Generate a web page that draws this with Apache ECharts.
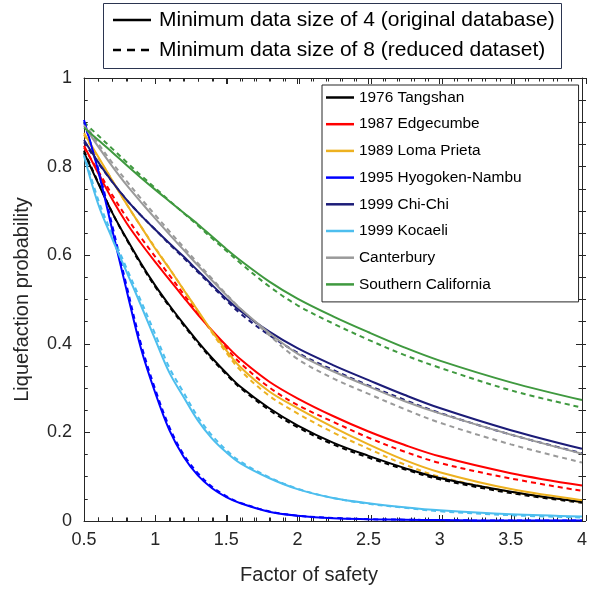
<!DOCTYPE html>
<html>
<head>
<meta charset="utf-8">
<script src="https://cdn.jsdelivr.net/npm/echarts@6/dist/echarts.min.js"></script>
<style>html,body{margin:0;padding:0;background:#fff}#c{width:590px;height:590px}</style>
</head>
<body>
<div id="c"></div>
<script>
// Factor of safety sample points
const fsValues = [0.5,0.6,0.7,0.8,0.9,1.0,1.1,1.2,1.3,1.4,1.5,1.6,1.8,2.0,2.25,2.5,2.75,3.0,3.5,4.0];

const eventNames = ['1976 Tangshan','1987 Edgecumbe','1989 Loma Prieta','1995 Hyogoken-Nambu','1999 Chi-Chi','1999 Kocaeli','Canterbury','Southern California'];

// Minimum data size of 4 (original database) - solid
const tangshan4   = [0.832,0.762,0.695,0.637,0.582,0.532,0.487,0.445,0.405,0.368,0.334,0.303,0.255,0.216,0.177,0.147,0.12,0.097,0.066,0.043];
const edgecumbe4  = [0.847,0.785,0.725,0.672,0.627,0.585,0.545,0.505,0.466,0.43,0.396,0.365,0.315,0.277,0.237,0.202,0.172,0.146,0.108,0.08];
const lomaPrieta4 = [0.876,0.822,0.768,0.715,0.665,0.615,0.57,0.522,0.475,0.428,0.385,0.347,0.293,0.255,0.212,0.173,0.138,0.11,0.072,0.047];
const hyogoken4   = [0.905,0.79,0.655,0.52,0.39,0.29,0.205,0.145,0.103,0.074,0.054,0.04,0.021,0.012,0.006,0.004,0.003,0.002,0.001,0.001];
const chiChi4     = [0.86,0.81,0.765,0.725,0.69,0.658,0.627,0.597,0.565,0.533,0.502,0.474,0.428,0.39,0.352,0.318,0.285,0.255,0.205,0.163];
const kocaeli4    = [0.825,0.715,0.636,0.562,0.487,0.41,0.335,0.28,0.227,0.186,0.155,0.13,0.097,0.072,0.052,0.04,0.031,0.024,0.015,0.01];
const canterbury4 = [0.893,0.845,0.8,0.758,0.72,0.683,0.647,0.612,0.577,0.543,0.51,0.479,0.425,0.378,0.338,0.304,0.271,0.243,0.195,0.152];
const southCal4   = [0.888,0.86,0.832,0.803,0.775,0.748,0.722,0.696,0.67,0.642,0.614,0.588,0.541,0.502,0.462,0.426,0.392,0.362,0.313,0.273];

// Minimum data size of 8 (reduced dataset) - dashed
const tangshan8   = [0.836,0.764,0.695,0.635,0.579,0.529,0.484,0.442,0.402,0.365,0.331,0.3,0.251,0.212,0.173,0.143,0.117,0.094,0.063,0.041];
const edgecumbe8  = [0.843,0.79,0.735,0.685,0.64,0.597,0.555,0.512,0.47,0.428,0.39,0.356,0.302,0.262,0.224,0.188,0.157,0.131,0.096,0.068];
const lomaPrieta8 = [0.872,0.82,0.768,0.715,0.665,0.617,0.57,0.522,0.474,0.425,0.38,0.34,0.283,0.243,0.2,0.163,0.128,0.1,0.066,0.043];
const hyogoken8   = [0.9,0.795,0.665,0.53,0.4,0.298,0.212,0.15,0.108,0.077,0.056,0.041,0.022,0.012,0.007,0.004,0.003,0.002,0.001,0.001];
const chiChi8     = [0.855,0.808,0.765,0.725,0.69,0.658,0.625,0.594,0.562,0.53,0.498,0.468,0.42,0.38,0.341,0.306,0.274,0.244,0.195,0.153];
const kocaeli8    = [0.83,0.725,0.645,0.57,0.497,0.422,0.346,0.29,0.235,0.193,0.16,0.134,0.099,0.073,0.052,0.039,0.03,0.022,0.013,0.008];
const canterbury8 = [0.9,0.852,0.808,0.767,0.728,0.691,0.654,0.618,0.582,0.547,0.512,0.479,0.42,0.366,0.322,0.287,0.253,0.222,0.173,0.132];
const southCal8   = [0.9,0.87,0.84,0.81,0.78,0.752,0.723,0.695,0.667,0.638,0.61,0.582,0.53,0.487,0.446,0.409,0.375,0.346,0.295,0.256];

const solidSets  = [tangshan4, edgecumbe4, lomaPrieta4, hyogoken4, chiChi4, kocaeli4, canterbury4, southCal4];
const dashedSets = [tangshan8, edgecumbe8, lomaPrieta8, hyogoken8, chiChi8, kocaeli8, canterbury8, southCal8];

const legendTop = ['Minimum data size of 4 (original database)','Minimum data size of 8 (reduced dataset)'];

const colors = ['#000000','#ff0000','#edb120','#0000ff','#1c1c78','#4dbeee','#9a9a9a','#3f993f'];
const FONT = '"Liberation Sans", Arial, sans-serif';
const AX = '#262626';

const chart = echarts.init(document.getElementById('c'));

function pairs(arr){ return fsValues.map((x,i)=>[x, arr[i]]); }

const series = [];
eventNames.forEach((n,i)=>{
  series.push({name:n, type:'line', data:pairs(dashedSets[i]), showSymbol:false, smooth:0.35,
    lineStyle:{color:colors[i], width:2, type:[5,4]}, itemStyle:{color:colors[i]}, z:2});
});
eventNames.forEach((n,i)=>{
  series.push({name:n, type:'line', data:pairs(solidSets[i]), showSymbol:false, smooth:0.35,
    lineStyle:{color:colors[i], width:2}, itemStyle:{color:colors[i]}, z:3});
});

function axisStyle(split){
  return {
    axisLine:{show:true, onZero:false, lineStyle:{color:AX, width:1}},
    axisTick:{show:true, inside:true, length:6, lineStyle:{color:AX, width:1}},
    minorTick:{show:true, splitNumber:split, length:3.5, lineStyle:{color:AX, width:1}},
    splitLine:{show:false}, minorSplitLine:{show:false}
  };
}

// Tick strips: thin grids along each frame edge whose split lines act as inward ticks
const grids = [{left:84, right:4, top:78, bottom:69, containLabel:false}];
const xAxes = [
  Object.assign({type:'value', min:0.5, max:4, interval:0.5, position:'bottom',
    axisLabel:{fontSize:18, color:AX, fontFamily:FONT, margin:10},
    name:'Factor of safety', nameLocation:'middle', nameGap:44,
    nameTextStyle:{fontSize:20, color:AX, fontFamily:FONT, padding:[0,48,0,0]}
  }, axisStyle(5)),
  Object.assign({type:'value', min:0.5, max:4, interval:0.5, position:'top', axisLabel:{show:false}}, axisStyle(5))
];
const yAxes = [
  Object.assign({type:'value', min:0, max:1, interval:0.2, position:'left',
    axisLabel:{fontSize:18, color:AX, fontFamily:FONT, margin:12, padding:[0,0,8,0]},
    name:'Liquefaction probability', nameLocation:'middle', nameGap:52,
    nameTextStyle:{fontSize:20, color:AX, fontFamily:FONT}
  }, axisStyle(4)),
  Object.assign({type:'value', min:0, max:1, interval:0.2, position:'right', axisLabel:{show:false}}, axisStyle(4))
];
const tickLine = {color:AX, width:1};
function hiddenAxis(g){ return {gridIndex:g, type:'value', min:0, max:1, show:false}; }
function hStrip(gridDef, major){
  const g = grids.length; grids.push(gridDef);
  xAxes.push({gridIndex:g, type:'value', min:0.5, max:4, interval:0.5,
    axisLine:{show:false}, axisTick:{show:false}, axisLabel:{show:false},
    minorTick:{show:false, splitNumber:5},
    splitLine:{show:major, lineStyle:tickLine}, minorSplitLine:{show:!major, lineStyle:tickLine}});
  yAxes.push(hiddenAxis(g));
}
function vStrip(gridDef, major){
  const g = grids.length; grids.push(gridDef);
  yAxes.push({gridIndex:g, type:'value', min:0, max:1, interval:0.2,
    axisLine:{show:false}, axisTick:{show:false}, axisLabel:{show:false},
    minorTick:{show:false, splitNumber:4},
    splitLine:{show:major, lineStyle:tickLine}, minorSplitLine:{show:!major, lineStyle:tickLine}});
  xAxes.push(hiddenAxis(g));
}
hStrip({left:84, right:4, top:515, height:6}, true);
hStrip({left:84, right:4, top:517.5, height:3.5}, false);
hStrip({left:84, right:4, top:78, height:6}, true);
hStrip({left:84, right:4, top:78, height:3.5}, false);
vStrip({left:84, width:6, top:78, bottom:69}, true);
vStrip({left:84, width:3.5, top:78, bottom:69}, false);
vStrip({right:4, width:6, top:78, bottom:69}, true);
vStrip({right:4, width:3.5, top:78, bottom:69}, false);

chart.setOption({
  animation:false,
  backgroundColor:'#fff',
  grid:grids,
  xAxis:xAxes,
  yAxis:yAxes,
  legend:{
    data:eventNames.map(n=>({name:n, icon:'rect'})),
    orient:'vertical', left:322, top:85,
    itemWidth:28, itemHeight:2.5, itemGap:9.7,
    padding:[4,57,9,4],
    borderColor:AX, borderWidth:1, backgroundColor:'#fff',
    selectedMode:false,
    textStyle:{fontSize:15.4, color:'#000', fontFamily:FONT, lineHeight:17}
  },
  graphic:[
    {type:'rect', shape:{x:103.5, y:3.5, width:458, height:65}, style:{fill:'#fff', stroke:'#2b3550', lineWidth:1}, z:10},
    {type:'line', shape:{x1:113, y1:20, x2:151, y2:20}, style:{stroke:'#000', lineWidth:2.5}, z:11},
    {type:'text', x:159, y:20, style:{text:legendTop[0], font:'21px "Liberation Sans", Arial, sans-serif', fill:'#000', verticalAlign:'middle'}, z:11},
    {type:'line', shape:{x1:113, y1:50, x2:151, y2:50}, style:{stroke:'#000', lineWidth:2.5, lineDash:[8,6]}, z:11},
    {type:'text', x:159, y:50, style:{text:legendTop[1], font:'21px "Liberation Sans", Arial, sans-serif', fill:'#000', verticalAlign:'middle'}, z:11}
  ],
  series:series
});
</script>
</body>
</html>
